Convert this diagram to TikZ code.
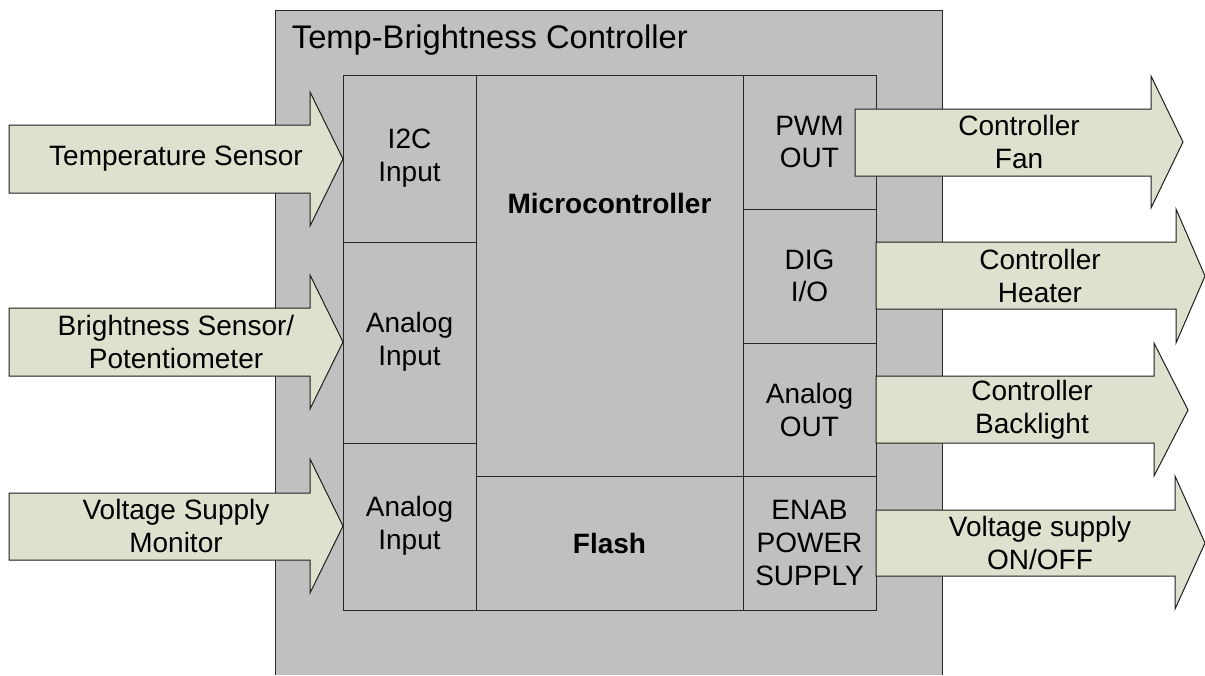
\documentclass[tikz,border=0pt]{standalone}
\usepackage{fontspec}
\setmainfont{Liberation Sans}

\tikzset{every picture/.style={line width=0.75pt}}
\tikzset{
  housing/.style={draw={rgb, 255:red, 40; green, 40; blue, 40}, fill={rgb, 255:red, 192; green, 192; blue, 192}},
  cellbox/.style={draw={rgb, 255:red, 40; green, 40; blue, 40}, fill={rgb, 255:red, 192; green, 192; blue, 192}},
  blockarrow/.style={draw={rgb, 255:red, 30; green, 30; blue, 30}, fill={rgb, 255:red, 221; green, 225; blue, 205}},
  lbl/.style={align=center, font=\fontsize{21}{24.5}\selectfont},
  boldlbl/.style={align=center, font=\fontsize{21}{24.5}\selectfont\bfseries}
}

\begin{document}
\begin{tikzpicture}[x=0.75pt,y=0.75pt,yscale=-1,xscale=1]
\useasboundingbox (0,0) rectangle (1205,675);

%Shape: Housing (open at the bottom)
\draw [housing] (275,675) -- (275,10) -- (942,10) -- (942,675) ;

%Shape: Rectangle [left column]
\draw [cellbox] (343,75) rectangle (476,242) ;
\draw [cellbox] (343,242) rectangle (476,443) ;
\draw [cellbox] (343,443) rectangle (476,610) ;
%Shape: Rectangle [middle column]
\draw [cellbox] (476,75) rectangle (743,476) ;
\draw [cellbox] (476,476) rectangle (743,610) ;
%Shape: Rectangle [right column]
\draw [cellbox] (743,75) rectangle (876,209) ;
\draw [cellbox] (743,209) rectangle (876,343) ;
\draw [cellbox] (743,343) rectangle (876,476) ;
\draw [cellbox] (743,476) rectangle (876,610) ;

%Right Arrow [inputs]
\draw [blockarrow] (9,125) -- (310,125) -- (310,92) -- (343,159) -- (310,226) -- (310,193) -- (9,193) -- cycle ;
\draw [blockarrow] (9,308) -- (310,308) -- (310,275) -- (343,342) -- (310,409) -- (310,376) -- (9,376) -- cycle ;
\draw [blockarrow] (9,493) -- (310,493) -- (310,459) -- (343,526) -- (310,593) -- (310,560) -- (9,560) -- cycle ;
%Right Arrow [outputs]
\draw [blockarrow] (855,109) -- (1151,109) -- (1151,76) -- (1183,142) -- (1151,208) -- (1151,176) -- (855,176) -- cycle ;
\draw [blockarrow] (876,242) -- (1176,242) -- (1176,209) -- (1205,276) -- (1176,343) -- (1176,309) -- (876,309) -- cycle ;
\draw [blockarrow] (876,376) -- (1154,376) -- (1154,343) -- (1188,410) -- (1154,476) -- (1154,443) -- (876,443) -- cycle ;
\draw [blockarrow] (876,510) -- (1175,510) -- (1175,476) -- (1205,543) -- (1175,609) -- (1175,576) -- (876,576) -- cycle ;

% Text Node
\draw (287,40) node (title) [anchor=west, font=\fontsize{24.5}{29}\selectfont] {Temp-Brightness Controller};
% Text Node
\draw (176,159) node (tsens) [lbl] {Temperature Sensor};
% Text Node
\draw (176,342) node (bsens) [lbl] {Brightness Sensor/\\Potentiometer};
% Text Node
\draw (176,526) node (vmon) [lbl] {Voltage Supply\\Monitor};
% Text Node
\draw (409.5,158) node (i2c) [lbl] {I2C\\Input};
% Text Node
\draw (409.5,342) node (ain1) [lbl] {Analog\\Input};
% Text Node
\draw (409.5,526) node (ain2) [lbl] {Analog\\Input};
% Text Node
\draw (609.5,203) node (mcu) [boldlbl] {Microcontroller};
% Text Node
\draw (609.5,543) node (flash) [boldlbl] {Flash};
% Text Node
\draw (809.5,142) node (pwm) [lbl] {PWM\\OUT};
% Text Node
\draw (809.5,276) node (dig) [lbl] {DIG\\I/O};
% Text Node
\draw (809.5,410) node (aout) [lbl] {Analog\\OUT};
% Text Node
\draw (809.5,543) node (enab) [lbl] {ENAB\\POWER\\SUPPLY};
% Text Node
\draw (1019,142) node (fan) [lbl] {Controller\\Fan};
% Text Node
\draw (1040,276) node (heater) [lbl] {Controller\\Heater};
% Text Node
\draw (1032,410) node (backl) [lbl] {Controller\\Backlight};
% Text Node
\draw (1040,543) node (vsup) [lbl] {Voltage supply\\ON/OFF};

\end{tikzpicture}
\end{document}
